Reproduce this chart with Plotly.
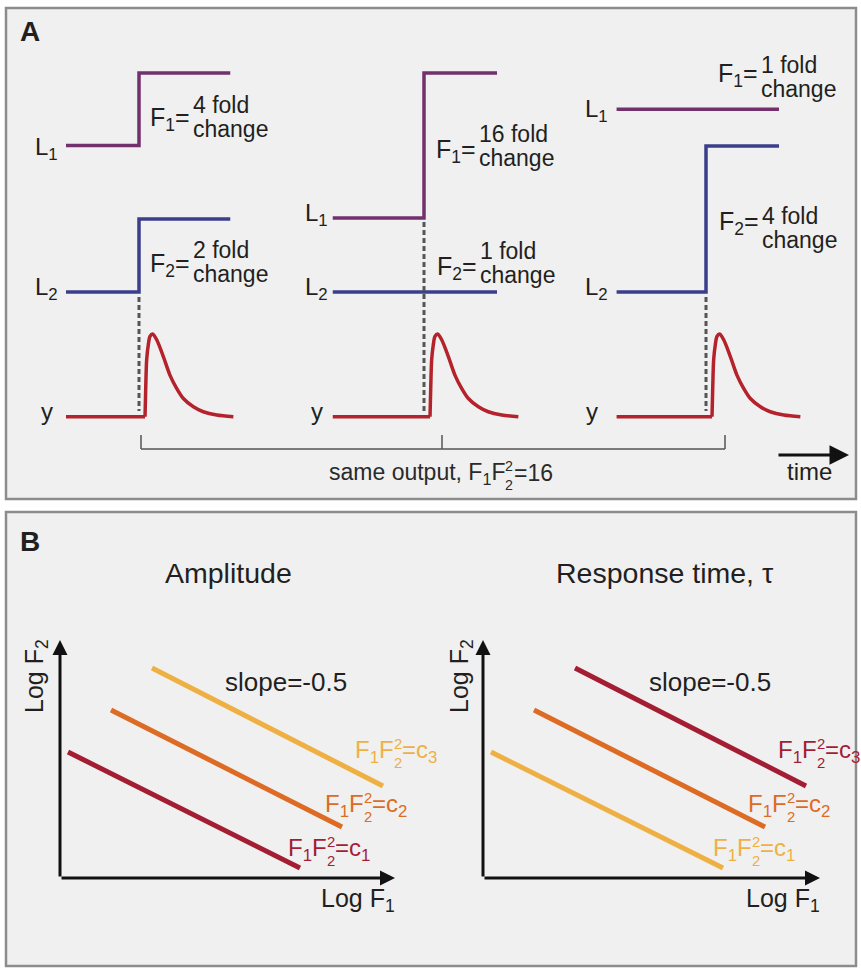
import math
import plotly.graph_objects as go

W, H = 861, 968

# ---------------- data ----------------
# Panel A: three input scenarios with the same output (F1*F2^2 = 16)
scen_F1 = [4, 16, 1]
scen_F2 = [2, 1, 4]
L1_before = [4, 1, 8]
L2_before = [1, 1, 1]
t_start = [-4.0, -5.0, -4.9]
t_end = [5.0, 4.0, 4.0]
# output pulse y(t) (time after the step, normalised amplitude)
resp_t = [0.33, 0.37, 0.42, 0.51, 0.60, 0.75, 0.97, 1.33, 1.70, 2.07, 2.43, 2.98, 3.52, 4.26, 5.17]
resp_y = [0.0, 0.36, 0.69, 0.87, 0.97, 1.0, 0.93, 0.73, 0.50, 0.34, 0.22, 0.12, 0.06, 0.02, 0.0]
same_output = 16

# Panel B: iso-lines F1*F2^2 = c in log-log space (slope -0.5)
logF1_start = [0.08, 0.51, 0.92]
logF1_end = [2.40, 2.82, 3.23]
logF2_start = [1.26, 1.68, 2.10]
logF2_end = [0.10, 0.51, 0.92]
const_names = ["c<sub>1</sub>", "c<sub>2</sub>", "c<sub>3</sub>"]

# ---------------- styles ----------------
FONT = "Liberation Sans, Arial, Helvetica, sans-serif"
TXT = "#231f20"
C_L1 = "#72306d"
C_L2 = "#3b3e8a"
C_Y = "#b4232c"
C_DR = "#a31d33"
C_OR = "#dd6b24"
C_YE = "#efb043"
BG = "#f0f0f0"
FRAME = "#8c8c8c"


def X(px):
    return px / W


def Y(py):
    return 1 - py / H


def yaxis_fit(v_a, p_a, v_b, p_b, top_px, bot_px):
    k = (v_b - v_a) / (p_b - p_a)
    rng = [v_a + (bot_px - p_a) * k, v_a + (top_px - p_a) * k]
    dom = [Y(bot_px), Y(top_px)]
    return rng, dom


fig = go.Figure()

scen_x = ["x", "x2", "x3"]
step_px = [139, 424, 706]
half = 109.5  # px for 6 time units

layout_axes = {}
for i, xa in enumerate(scen_x):
    name = "xaxis" if xa == "x" else "xaxis" + xa[1:]
    layout_axes[name] = dict(domain=[X(step_px[i] - half), X(step_px[i] + half)],
                             range=[-6, 6], visible=False, fixedrange=True)

# track axes: y (L1, log), y2 (L2, log), y3 (output, linear)
r, d = yaxis_fit(0, 218, math.log10(16), 73, 30, 260)
layout_axes["yaxis"] = dict(type="log", range=r, domain=d, visible=False, anchor="x", fixedrange=True)
r, d = yaxis_fit(0, 292, math.log10(2), 219, 120, 320)
layout_axes["yaxis2"] = dict(type="log", range=r, domain=d, visible=False, anchor="x", fixedrange=True)
r, d = yaxis_fit(0, 416.7, 1, 334, 300, 440)
layout_axes["yaxis3"] = dict(range=r, domain=d, visible=False, anchor="x", fixedrange=True)

# panel B axes
layout_axes["xaxis4"] = dict(domain=[X(60), X(400)], range=[0, 3.4], visible=False, anchor="y4", fixedrange=True)
layout_axes["yaxis4"] = dict(domain=[Y(878), Y(628)], range=[0, 2.5], visible=False, anchor="x4", fixedrange=True)
layout_axes["xaxis5"] = dict(domain=[X(483), X(823)], range=[0, 3.4], visible=False, anchor="y5", fixedrange=True)
layout_axes["yaxis5"] = dict(domain=[Y(878), Y(628)], range=[0, 2.5], visible=False, anchor="x5", fixedrange=True)

for i, xa in enumerate(scen_x):
    b1, a1 = L1_before[i], L1_before[i] * scen_F1[i]
    b2, a2 = L2_before[i], L2_before[i] * scen_F2[i]
    fig.add_trace(go.Scatter(x=[t_start[i], 0, 0, t_end[i]], y=[b1, b1, a1, a1],
                             xaxis=xa, yaxis="y", mode="lines",
                             line=dict(color=C_L1, width=3.5), hoverinfo="skip"))
    fig.add_trace(go.Scatter(x=[t_start[i], 0, 0, t_end[i]], y=[b2, b2, a2, a2],
                             xaxis=xa, yaxis="y2", mode="lines",
                             line=dict(color=C_L2, width=3.5), hoverinfo="skip"))
    # output: flat baseline, then the smooth pulse
    fig.add_trace(go.Scatter(x=[t_start[i], resp_t[0]], y=[0.0, resp_y[0]],
                             xaxis=xa, yaxis="y3", mode="lines",
                             line=dict(color=C_Y, width=3.5), hoverinfo="skip"))
    fig.add_trace(go.Scatter(x=resp_t, y=resp_y,
                             xaxis=xa, yaxis="y3", mode="lines",
                             line=dict(color=C_Y, width=3.5, shape="spline", smoothing=0.8),
                             hoverinfo="skip"))

left_cols = [C_DR, C_OR, C_YE]
right_cols = [C_YE, C_OR, C_DR]
for xa, ya, cols in [("x4", "y4", left_cols), ("x5", "y5", right_cols)]:
    for j in range(3):
        fig.add_trace(go.Scatter(x=[logF1_start[j], logF1_end[j]], y=[logF2_start[j], logF2_end[j]],
                                 xaxis=xa, yaxis=ya, mode="lines",
                                 line=dict(color=cols[j], width=5), hoverinfo="skip"))

shapes = []
# panel frames
shapes.append(dict(type="rect", xref="paper", yref="paper", x0=X(6), x1=X(856), y0=Y(499), y1=Y(8),
                   fillcolor=BG, line=dict(color=FRAME, width=2.5), layer="below"))
shapes.append(dict(type="rect", xref="paper", yref="paper", x0=X(6), x1=X(856), y0=Y(966), y1=Y(512),
                   fillcolor=BG, line=dict(color=FRAME, width=2.5), layer="below"))
# dashed step markers
dash_top = [297, 222, 297]
for i, xa in enumerate(scen_x):
    shapes.append(dict(type="line", xref=xa, yref="paper", x0=0, x1=0, y0=Y(dash_top[i]), y1=Y(411),
                       line=dict(color="#555555", width=3, dash="5px,3px")))
# bracket
BR = "#555555"
shapes.append(dict(type="line", xref="paper", yref="paper", x0=X(141), x1=X(725), y0=Y(449), y1=Y(449),
                   line=dict(color=BR, width=1.5)))
for bx in [141, 442, 725]:
    shapes.append(dict(type="line", xref="paper", yref="paper", x0=X(bx), x1=X(bx), y0=Y(449), y1=Y(435),
                       line=dict(color=BR, width=1.5)))

ann = []


def txt(s, px, py, size, color=TXT, xanchor="left", yanchor="middle", angle=0):
    ann.append(dict(text=s, x=X(px), y=Y(py), xref="paper", yref="paper", showarrow=False,
                    xanchor=xanchor, yanchor=yanchor, textangle=angle, borderpad=0, borderwidth=0,
                    font=dict(family=FONT, size=size, color=color)))


def stacked(prefix_w_em, prefix, tail, lx, ly, size, color):
    """text whose last F carries a stacked subscript 2 and superscript 2"""
    txt(prefix, lx, ly, size, color=color)
    cx = lx + prefix_w_em * size
    ann.append(dict(text="2<br>2", x=X(cx), y=Y(ly + 2.5), xref="paper", yref="paper", showarrow=False,
                    xanchor="left", yanchor="middle", align="left", borderpad=0, borderwidth=0,
                    font=dict(family=FONT, size=0.62 * size, color=color)))
    txt(tail, cx + 0.556 * 0.62 * size + 0.5, ly, size, color=color)


txt("<b>A</b>", 20, 31, 28)
txt("<b>B</b>", 20, 541, 28)

# track labels
L1_lab = [(58, 148), (328, 214), (608, 110)]
L2_lab = [(58, 288), (328, 288), (608, 288)]
y_lab = [(53, 411), (323, 411), (598, 411)]
for i in range(3):
    txt("L<sub>1</sub>", L1_lab[i][0], L1_lab[i][1], 24, xanchor="right")
    txt("L<sub>2</sub>", L2_lab[i][0], L2_lab[i][1], 24, xanchor="right")
    txt("y", y_lab[i][0], y_lab[i][1], 24, xanchor="right")

# fold-change labels: (F text, F y, fold x, fold y, change y)
fold_lab = [
    ("F<sub>1</sub>=", 119, 193, 105, 129, f"{scen_F1[0]} fold"),
    ("F<sub>2</sub>=", 265, 193, 250, 274, f"{scen_F2[0]} fold"),
    ("F<sub>1</sub>=", 151, 479, 134, 158, f"{scen_F1[1]} fold"),
    ("F<sub>2</sub>=", 268, 480, 251, 275, f"{scen_F2[1]} fold"),
    ("F<sub>1</sub>=", 75, 761, 65, 89.5, f"{scen_F1[2]} fold"),
    ("F<sub>2</sub>=", 223, 762, 216, 240, f"{scen_F2[2]} fold"),
]
for ftxt, fy, gx, gy, cy, fold in fold_lab:
    txt(ftxt, gx - 3, fy, 25, xanchor="right")
    txt(fold, gx, gy, 23)
    txt("change", gx, cy, 23)

# "same output, F1F2^2=16"  (em width of 'same output, F1F')
stacked(7.67, "same output, F<sub>1</sub>F", f"={same_output}", 329, 473, 23, "#2a2a2a")
txt("time", 809, 472, 24, xanchor="center")
ann.append(dict(x=X(849), y=Y(455), xref="paper", yref="paper", ax=-72, ay=0, text="",
                showarrow=True, arrowhead=2, arrowsize=1.3, arrowwidth=3, arrowcolor="#111111",
                standoff=0, startstandoff=0))

# panel B texts
txt("Amplitude", 229, 573, 28.5, xanchor="center")
txt("Response time, τ", 665, 573, 28.5, xanchor="center")
txt("slope=-0.5", 286, 682, 26, xanchor="center")
txt("slope=-0.5", 710, 682, 26, xanchor="center")
txt("Log F<sub>2</sub>", 36, 676, 25, xanchor="center", angle=-90)
txt("Log F<sub>2</sub>", 461, 676, 25, xanchor="center", angle=-90)
txt("Log F<sub>1</sub>", 395, 900, 25, xanchor="right")
txt("Log F<sub>1</sub>", 820, 900, 25, xanchor="right")

# iso-line labels F1F2^2=c_k
LS = 24
lab_left = [(288, 849), (325, 805), (355, 751)]
lab_right = [(713, 849), (748, 805), (778, 751)]
pref_em = 0.611 + 0.7 * 0.556 + 0.611
for labs, cols in [(lab_left, left_cols), (lab_right, right_cols)]:
    for j in range(3):
        lx, ly = labs[j]
        stacked(pref_em, "F<sub>1</sub>F", "=" + const_names[j], lx, ly, LS, cols[j])

# axis arrows for panel B (drawn in the axes' own coordinates)
for xa, ya, xtip, ytip in [("x4", "y4", 3.35, 2.38), ("x5", "y5", 3.37, 2.38)]:
    for (tx, ty) in [(xtip, 0), (0, ytip)]:
        ann.append(dict(x=tx, y=ty, ax=0, ay=0, xref=xa, yref=ya, axref=xa, ayref=ya, text="",
                        showarrow=True, arrowhead=2, arrowsize=1, arrowwidth=3, arrowcolor="#111111",
                        standoff=0, startstandoff=0))

fig.update_layout(width=W, height=H, margin=dict(l=0, r=0, t=0, b=0),
                  paper_bgcolor="white", plot_bgcolor="rgba(0,0,0,0)",
                  showlegend=False, shapes=shapes, annotations=ann, hovermode=False,
                  **layout_axes)

fig.write_html("out.html", config={"displayModeBar": False},
               post_script="document.body.style.margin='0px';document.body.style.padding='0px';")
